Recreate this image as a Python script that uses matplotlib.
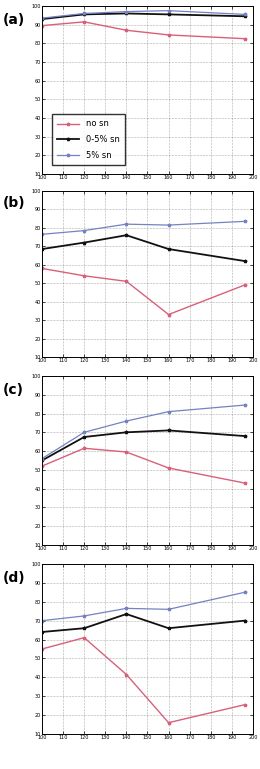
import matplotlib
matplotlib.use('Agg')
import matplotlib.pyplot as plt
import numpy as np

# x positions (same for every panel)
x = [100, 120, 140, 160, 196]

# panel (a)
a_no = [89.5, 91.5, 87.0, 84.5, 82.5]
a_05 = [93.0, 95.5, 96.0, 95.5, 94.5]
a_5 = [93.5, 96.0, 97.0, 97.5, 95.5]

# panel (b)
b_no = [58.0, 54.0, 51.0, 33.0, 49.0]
b_05 = [68.5, 72.0, 76.0, 68.5, 62.0]
b_5 = [76.5, 78.5, 82.0, 81.5, 83.5]

# panel (c)
c_no = [52.0, 61.5, 59.5, 51.0, 43.0]
c_05 = [55.0, 67.5, 70.0, 71.0, 68.0]
c_5 = [56.0, 70.0, 76.0, 81.0, 84.5]

# panel (d)
d_no = [55.0, 61.0, 41.5, 16.0, 25.5]
d_05 = [64.0, 66.0, 73.5, 66.0, 70.0]
d_5 = [70.0, 72.5, 76.5, 76.0, 85.0]

panels = ['(a)', '(b)', '(c)', '(d)']
series = [(a_no, a_05, a_5), (b_no, b_05, b_5), (c_no, c_05, c_5), (d_no, d_05, d_5)]
labels = ['no sn', '0-5% sn', '5% sn']
colors = ['#d8607a', '#111111', '#7482c2']
widths = [1.0, 1.3, 0.9]

xticks = np.arange(100, 201, 10)
yticks = np.arange(10, 101, 10)

# axes boxes in figure fraction [left, bottom, width, height]
boxes = [[0.1615, 0.7737, 0.8115, 0.2185],
         [0.1615, 0.5358, 0.8115, 0.2159],
         [0.1615, 0.2913, 0.8115, 0.2198],
         [0.1615, 0.0455, 0.8115, 0.2211]]
label_y = [0.983, 0.745, 0.502, 0.258]

fig = plt.figure(figsize=(2.6, 7.69), dpi=100)

for i in range(4):
    ax = fig.add_axes(boxes[i])
    for s, lab, c, lw in zip(series[i], labels, colors, widths):
        ax.plot(x, s, color=c, lw=lw, marker='*', ms=2.5, label=lab)
    ax.set_xlim(100, 200)
    ax.set_ylim(10, 100)
    ax.set_xticks(xticks)
    ax.set_yticks(yticks)
    ax.tick_params(labelsize=3.5, direction='in', length=2, width=0.5,
                   top=True, right=True, pad=1)
    ax.grid(True, color='black', ls=':', lw=0.4, alpha=0.6)
    for sp in ax.spines.values():
        sp.set_linewidth(0.7)
    fig.text(0.012, label_y[i], panels[i], fontsize=10, fontweight='bold',
             va='top', ha='left')
    if i == 0:
        ax.legend(loc='lower left', bbox_to_anchor=(0.03, 0.03), fontsize=6,
                  frameon=True, fancybox=False, edgecolor='black',
                  handlelength=2.6, borderpad=0.6, labelspacing=0.8)

plt.savefig('out.png', dpi=100)
